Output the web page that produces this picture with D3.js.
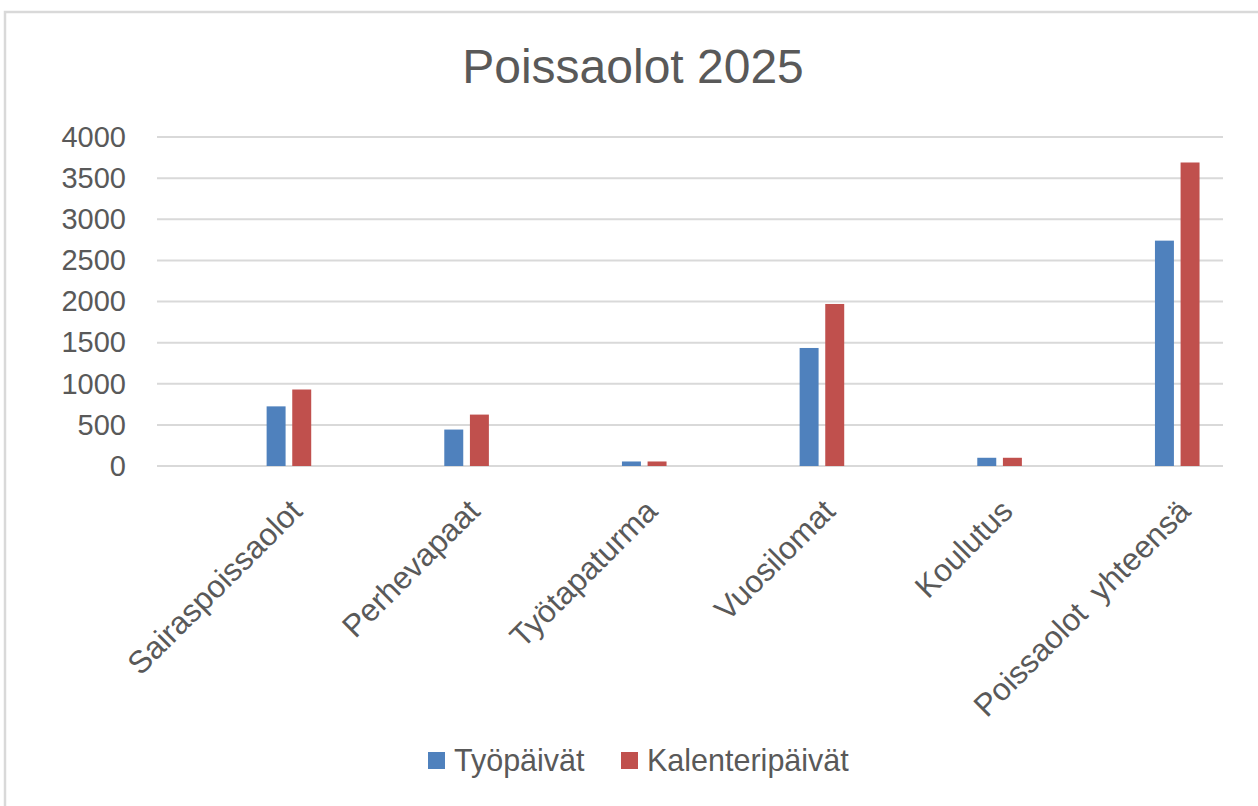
<!DOCTYPE html>
<html>
<head>
<meta charset="utf-8">
<script src="https://cdn.jsdelivr.net/npm/d3@7"></script>
<style>
  body { margin: 0; background: #fff; }
  svg text { font-family: "Liberation Sans", Arial, sans-serif; fill: #595959; }
</style>
</head>
<body>
<div id="chart"></div>
<script>
var categories = ["Sairaspoissaolot", "Perhevapaat", "Työtapaturma", "Vuosilomat", "Koulutus", "Poissaolot  yhteensä"];
var seriesNames = ["Työpäivät", "Kalenteripäivät"];
var tyopaivat = [725, 443, 55, 1435, 100, 2740];
var kalenteripaivat = [930, 625, 55, 1970, 100, 3690];
var yTicks = [0, 500, 1000, 1500, 2000, 2500, 3000, 3500, 4000];
var colors = ["#4f81bd", "#c0504d"];

var svgWidth = 1258, svgHeight = 806;
var margin = { top: 137, right: 35, bottom: 340, left: 157 };
var width = svgWidth - margin.left - margin.right;
var height = svgHeight - margin.top - margin.bottom;

var svg = d3.select("#chart")
  .append("svg")
  .attr("width", svgWidth)
  .attr("height", svgHeight);

// chart frame (only top and left edges visible in the original crop)
svg.append("rect")
  .attr("x", 5)
  .attr("y", 12)
  .attr("width", 1300)
  .attr("height", 900)
  .attr("fill", "#fff")
  .attr("stroke", "#d9d9d9")
  .attr("stroke-width", 2.5);

svg.append("text")
  .attr("x", 633)
  .attr("y", 83)
  .attr("text-anchor", "middle")
  .style("font-size", "48px")
  .text("Poissaolot 2025");

var g = svg.append("g")
  .attr("transform", "translate(" + margin.left + "," + margin.top + ")");

var x0 = d3.scaleBand().domain(categories).range([0, width]).padding(0);
var x1 = d3.scaleBand().domain(seriesNames)
  .range([x0.bandwidth() * 0.617, x0.bandwidth() * 0.868])
  .paddingInner(0.26);
var y = d3.scaleLinear().domain([0, 4000]).range([height, 0]);

// gridlines
g.append("g")
  .selectAll("line")
  .data(yTicks)
  .enter().append("line")
  .attr("x1", 0)
  .attr("x2", width)
  .attr("y1", function(d) { return y(d); })
  .attr("y2", function(d) { return y(d); })
  .attr("stroke", "#d9d9d9")
  .attr("stroke-width", 2);

// y axis labels
var yAxis = g.append("g")
  .call(d3.axisLeft(y).tickValues(yTicks).tickFormat(d3.format("d")).tickSize(0).tickPadding(31));
yAxis.select(".domain").remove();
yAxis.selectAll("text")
  .attr("fill", "#595959")
  .style("font-family", "'Liberation Sans', Arial, sans-serif")
  .style("font-size", "29px");

// bars
var data = categories.map(function(c, i) {
  return { cat: c, values: [tyopaivat[i], kalenteripaivat[i]] };
});

var groups = g.selectAll(".cat")
  .data(data)
  .enter().append("g")
  .attr("class", "cat")
  .attr("transform", function(d) { return "translate(" + x0(d.cat) + ",0)"; });

groups.selectAll("rect")
  .data(function(d) {
    return d.values.map(function(v, j) { return { name: seriesNames[j], value: v, idx: j }; });
  })
  .enter().append("rect")
  .attr("x", function(d) { return x1(d.name); })
  .attr("y", function(d) { return y(d.value); })
  .attr("width", x1.bandwidth())
  .attr("height", function(d) { return height - y(d.value); })
  .attr("fill", function(d) { return colors[d.idx]; });

// category labels, rotated
g.selectAll(".xlab")
  .data(categories)
  .enter().append("text")
  .attr("class", "xlab")
  .attr("text-anchor", "end")
  .attr("transform", function(d) {
    var cx = x0(d) + x1.range()[0] + (x1.range()[1] - x1.range()[0]) / 2;
    return "translate(" + (cx + 15) + "," + (height + 47) + ") rotate(-45)";
  })
  .style("font-size", "31.5px")
  .style("white-space", "pre")
  .text(function(d) { return d; });

// legend
var legend = svg.append("g").attr("transform", "translate(428,752)");
var legendX = [0, 193];
seriesNames.forEach(function(s, i) {
  var lg = legend.append("g").attr("transform", "translate(" + legendX[i] + ",0)");
  lg.append("rect")
    .attr("width", 17)
    .attr("height", 17)
    .attr("fill", colors[i]);
  lg.append("text")
    .attr("x", 26)
    .attr("y", 19)
    .style("font-size", "30.5px")
    .text(s);
});
</script>
</body>
</html>
